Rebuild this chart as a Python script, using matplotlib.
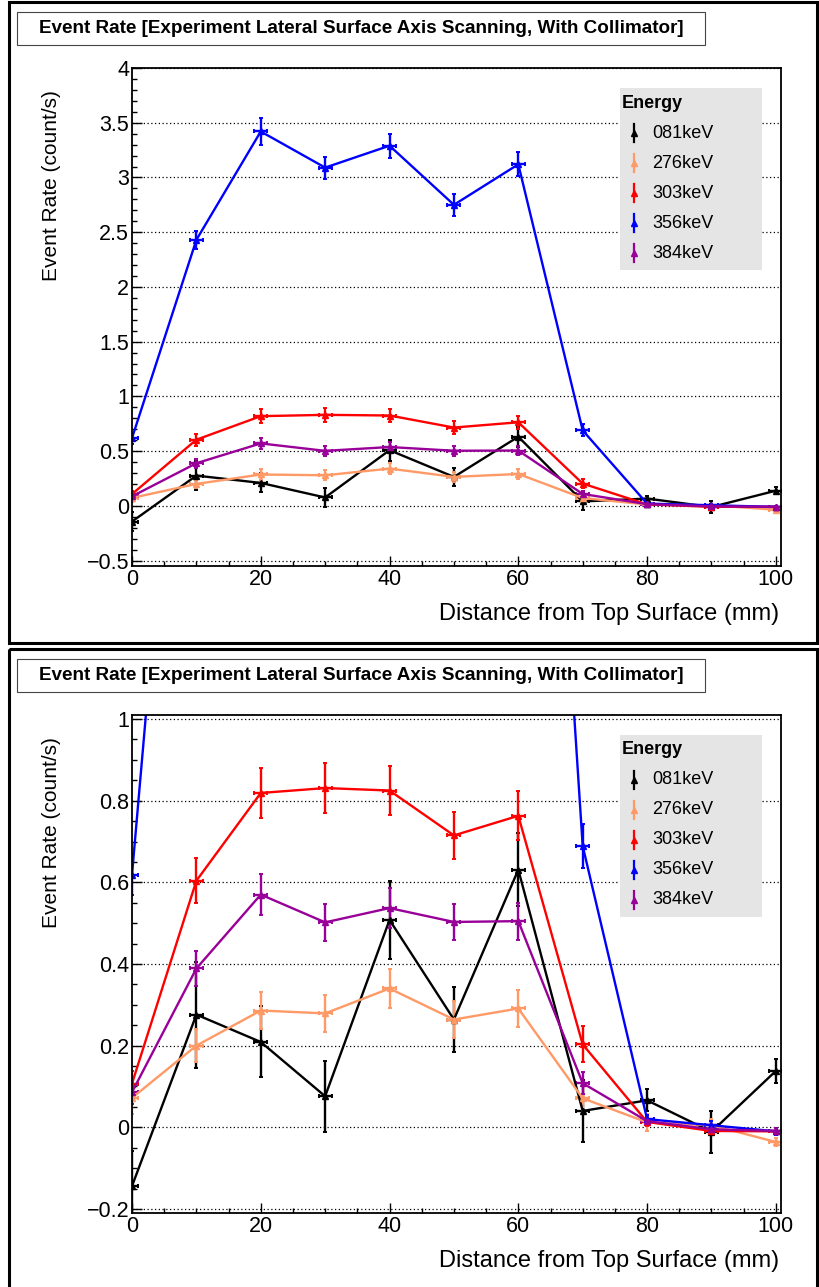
import matplotlib
matplotlib.use("Agg")
import matplotlib.pyplot as plt
from matplotlib.patches import Rectangle
from matplotlib.lines import Line2D
from matplotlib.transforms import Affine2D
from matplotlib.ticker import MultipleLocator, FuncFormatter

plt.rcParams['font.family'] = ['Liberation Sans', 'DejaVu Sans']

# data
distance = [0, 10, 20, 30, 40, 50, 60, 70, 80, 90, 100]
energies = ['081keV', '276keV', '303keV', '356keV', '384keV']
colors = ['black', '#ff9966', '#ff0000', '#0000ff', '#990099']

rate_081 = [-0.144, 0.276, 0.209, 0.076, 0.508, 0.264, 0.631, 0.040, 0.066, -0.011, 0.138]
err_081 = [0.085, 0.13, 0.087, 0.087, 0.095, 0.08, 0.09, 0.075, 0.027, 0.052, 0.03]
rate_276 = [0.072, 0.200, 0.286, 0.279, 0.340, 0.264, 0.291, 0.071, 0.012, 0.005, -0.036]
err_276 = [0.04, 0.04, 0.046, 0.045, 0.048, 0.045, 0.045, 0.03, 0.02, 0.015, 0.01]
rate_303 = [0.107, 0.604, 0.819, 0.831, 0.825, 0.715, 0.763, 0.203, 0.013, -0.009, -0.010]
err_303 = [0.03, 0.055, 0.062, 0.062, 0.06, 0.057, 0.06, 0.044, 0.01, 0.01, 0.008]
rate_356 = [0.619, 2.43, 3.42, 3.09, 3.29, 2.75, 3.12, 0.689, 0.020, 0.005, -0.010]
err_356 = [0.05, 0.08, 0.12, 0.1, 0.11, 0.1, 0.11, 0.055, 0.01, 0.01, 0.008]
rate_384 = [0.086, 0.389, 0.570, 0.502, 0.537, 0.503, 0.505, 0.108, 0.015, -0.005, -0.009]
err_384 = [0.03, 0.043, 0.05, 0.045, 0.05, 0.045, 0.045, 0.027, 0.01, 0.008, 0.008]

rates = [rate_081, rate_276, rate_303, rate_356, rate_384]
errors = [err_081, err_276, err_303, err_356, err_384]

title = 'Event Rate [Experiment Lateral Surface Axis Scanning, With Collimator]'

W, H = 820, 1287
fig = plt.figure(figsize=(W / 100, H / 100), dpi=100)
# pixel coordinates, origin top-left
px = Affine2D().scale(1 / W, -1 / H).translate(0, 1) + fig.transFigure


def fmt(v, _):
    v = round(v, 6)
    if v == 0:
        v = 0.0
    return f'{v:g}'.replace('-', '\u2212')


def draw_panel(top, ylim, ymajor, yminor):
    # pad border
    fig.add_artist(Rectangle((9, top + 1.5), 808.5, 641.5, transform=px,
                             fill=False, lw=2.2, ec='black', zorder=6))
    # title box
    fig.add_artist(Rectangle((17, top + 12), 688, 33, transform=px,
                             fc='white', ec='#444444', lw=0.8, zorder=4))
    fig.text(361, top + 28.5, title, transform=px, ha='center', va='center',
             fontsize=13.6, fontweight='bold', zorder=5)

    ax = fig.add_axes([132 / W, 1 - (top + 566) / H, 649 / W, 498 / H])
    for rate, err, c in zip(rates, errors, colors):
        ax.errorbar(distance, rate, yerr=err, xerr=1.0, color=c, marker='^',
                    ms=4.5, lw=1.7, elinewidth=1.7, capsize=1.5, capthick=1.4)

    ax.set_xlim(0, 100.8)
    ax.set_ylim(*ylim)
    ax.xaxis.set_major_locator(MultipleLocator(20))
    ax.xaxis.set_minor_locator(MultipleLocator(5))
    ax.yaxis.set_major_locator(MultipleLocator(ymajor))
    ax.yaxis.set_minor_locator(MultipleLocator(yminor))
    ax.yaxis.set_major_formatter(FuncFormatter(fmt))
    ax.tick_params(which='both', direction='in', top=False, right=False,
                   labelsize=15.5, width=1.0)
    ax.tick_params(which='major', length=7.5)
    ax.tick_params(which='minor', length=3.8)
    ax.tick_params(axis='x', pad=2)
    ax.tick_params(axis='y', pad=2)
    ax.yaxis.grid(True, which='major', ls=(0, (1, 2)), color='black', lw=0.9)
    ax.set_axisbelow(True)
    for s in ax.spines.values():
        s.set_linewidth(1.3)

    fig.text(52, top + 90, 'Event Rate (count/s)', transform=px, rotation=90,
             ha='center', va='top', fontsize=15)
    fig.text(779, top + 614, 'Distance from Top Surface (mm)', transform=px,
             ha='right', va='center', fontsize=17)

    # legend
    fig.add_artist(Rectangle((620, top + 88), 142, 182, transform=px,
                             fc='#e5e5e5', ec='none', zorder=4))
    fig.text(622, top + 103, 'Energy', transform=px, ha='left', va='center',
             fontsize=13, fontweight='bold', zorder=5)
    for i, (lab, c) in enumerate(zip(energies, colors)):
        y = top + 133 + 30 * i
        fig.add_artist(Line2D([634, 634], [y - 9, y + 9], color=c, lw=1.6,
                              transform=px, zorder=5))
        fig.add_artist(Line2D([634], [y], color=c, marker='^', ms=4.5,
                              transform=px, zorder=5))
        fig.text(652, y, lab, transform=px, ha='left', va='center',
                 fontsize=13, zorder=5)
    return ax


draw_panel(0, (-0.55, 4.0), 0.5, 0.1)
draw_panel(647, (-0.21, 1.01), 0.2, 0.05)

fig.savefig('out.png', dpi=100)
